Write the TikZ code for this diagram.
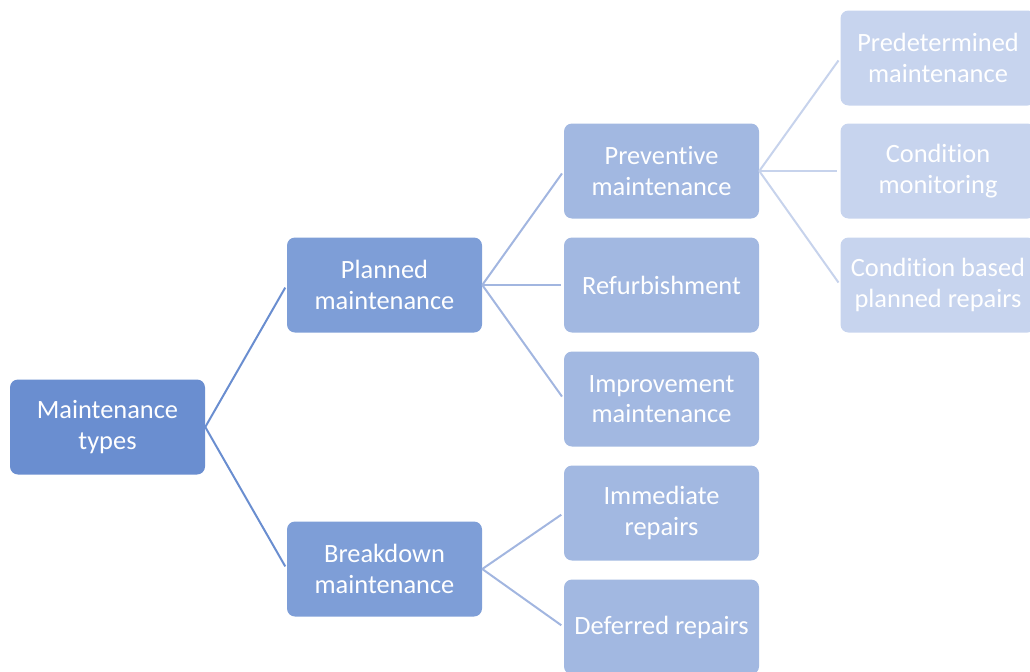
\documentclass[tikz,border=0pt]{standalone}
\usepackage{fontspec}
\setmainfont[Ligatures={NoCommon}]{Carlito}
\definecolor{lvlA}{HTML}{6A8ED0}
\definecolor{lvlB}{HTML}{7E9ED7}
\definecolor{lvlC}{HTML}{A2B8E1}
\definecolor{lvlD}{HTML}{C7D4EE}
\definecolor{lnA}{HTML}{6A8ED0}
\definecolor{lnB}{HTML}{A2B6E0}
\definecolor{lnC}{HTML}{C7D3EC}
\tikzset{
  box/.style={rounded corners=6pt, minimum width=146.25pt, minimum height=71.25pt,
    text=white, align=center, inner sep=0pt,
    font=\fontsize{19.8}{22.8}\selectfont},
  boxA/.style={box, fill=lvlA},
  boxB/.style={box, fill=lvlB},
  boxC/.style={box, fill=lvlC},
  boxD/.style={box, fill=lvlD},
  link/.style={line width=1.5pt, shorten >=2.25pt},
}
\begin{document}
\begin{tikzpicture}[x=0.75pt, y=-0.75pt]
\useasboundingbox (0,0) rectangle (1030,671);
\clip (0,0) rectangle (1030,671);
% boxes, one column per level
\node[boxA] (root) at (107.5,427) {Maintenance\\types};
\node[boxB] (plan) at (384.5,285) {Planned\\maintenance};
\node[boxB] (brk)  at (384.5,569) {Breakdown\\maintenance};
\node[boxC] (prev) at (661.5,171) {Preventive\\maintenance};
\node[boxC] (refu) at (661.5,285) {Refurbishment};
\node[boxC] (impr) at (661.5,399) {Improvement\\maintenance};
\node[boxC] (imme) at (661.5,513) {Immediate\\repairs};
\node[boxC] (defe) at (661.5,627) {Deferred repairs};
\node[boxD] (pred) at (938,58)   {Predetermined\\maintenance};
\node[boxD] (cmon) at (938,171)  {Condition\\monitoring};
\node[boxD] (cbpr) at (938,285)  {Condition based\\planned repairs};
% connectors
\draw[link, lnA] (root.east) -- (plan.west);
\draw[link, lnA] (root.east) -- (brk.west);
\draw[link, lnB] (plan.east) -- (prev.west);
\draw[link, lnB] (plan.east) -- (refu.west);
\draw[link, lnB] (plan.east) -- (impr.west);
\draw[link, lnB] (brk.east) -- (imme.west);
\draw[link, lnB] (brk.east) -- (defe.west);
\draw[link, lnC] (prev.east) -- (pred.west);
\draw[link, lnC] (prev.east) -- (cmon.west);
\draw[link, lnC] (prev.east) -- (cbpr.west);
\end{tikzpicture}
\end{document}
